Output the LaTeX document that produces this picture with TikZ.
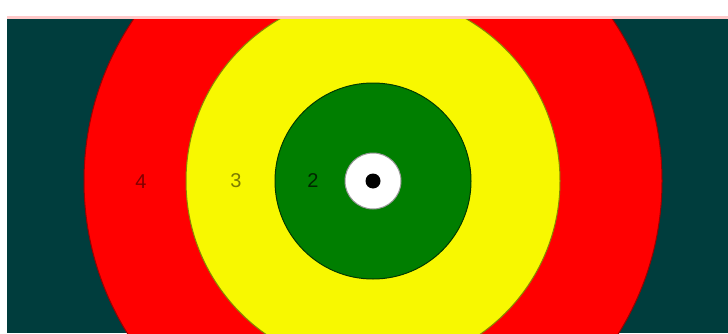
\documentclass[tikz,border=0pt]{standalone}
\usepackage{fontspec}
\setmainfont{Liberation Sans}
\usepackage{tikz}
\usetikzlibrary{positioning}
\definecolor{pitch}{HTML}{003D3D}
\definecolor{ringred}{HTML}{FF0000}
\definecolor{ringyel}{HTML}{F8F800}
\definecolor{ringgrn}{HTML}{007E00}
\definecolor{blush}{HTML}{FFC9C9}

\begin{document}
\begin{tikzpicture}[x=1pt, y=1pt,
    ring/.style={circle, inner sep=0pt, line width=1pt},
    score/.style={font=\fontsize{20}{22}\selectfont, inner sep=0pt}]
    \useasboundingbox (0,0) rectangle (728,333);
    \fill[white] (0,0) rectangle (728,333);
    \fill[blush] (7,314) rectangle (728,317);
    \begin{scope}
      \clip (7,0) rectangle (728,314);
      \fill[pitch] (7,0) rectangle (728,314);
      \coordinate (ctr) at (373,152);
      \node[ring, fill=ringred, draw=ringred!60!black, minimum size=578pt] (r4) at (ctr) {};
      \node[ring, fill=ringyel, draw=ringyel!55!black, minimum size=374pt] (r3) at (ctr) {};
      \node[ring, fill=ringgrn, draw=ringgrn!45!black, minimum size=196pt] (r2) at (ctr) {};
      \node[ring, fill=white, draw=black!40, minimum size=56pt] (r1) at (ctr) {};
      \node[circle, fill=black, inner sep=0pt, minimum size=15pt] (bull) at (ctr) {};
    \end{scope}
    \node[score, text=ringred!50!black] (l4) at (141,151) {4};
    \node[score, text=ringyel!50!black] (l3) at (236,152) {3};
    \node[score, text=ringgrn!30!black] (l2) at (313,152) {2};
  \end{tikzpicture}
\end{document}
